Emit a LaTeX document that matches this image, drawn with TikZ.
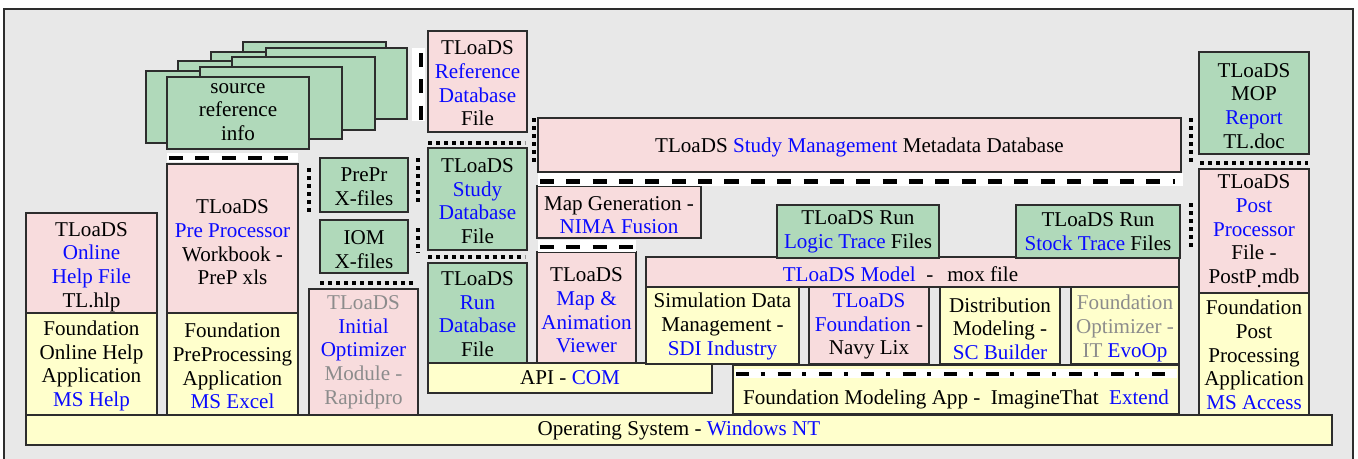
\documentclass[tikz,border=0pt]{standalone}
\usepackage{fontspec}
\setmainfont{Liberation Serif}
\usetikzlibrary{calc}

\definecolor{pinkfill}{RGB}{248,220,221}
\definecolor{greenfill}{RGB}{176,217,186}
\definecolor{yellowfill}{RGB}{255,255,204}
\definecolor{panelgray}{RGB}{232,232,232}
\definecolor{tblue}{RGB}{10,10,255}
\definecolor{tgray}{RGB}{140,140,140}
\definecolor{edge}{RGB}{45,45,45}

% coloured words inside the layer boxes
\newcommand\B[1]{\textcolor{tblue}{#1}}
\newcommand\G[1]{\textcolor{tgray}{#1}}

\tikzset{
  blkbox/.style={draw=edge, line width=0.7pt, inner sep=0pt, outer sep=0pt},
  blktext/.style={font=\fontsize{12}{13.5}\selectfont, align=center, inner sep=0pt},
  pinkbox/.style={fill=pinkfill},
  greenbox/.style={fill=greenfill},
  yellowbox/.style={fill=yellowfill},
  sepdot/.style={line width=2pt, dash pattern=on 2.3pt off 2.3pt},
  sepdash/.style={line width=2.3pt, dash pattern=on 8pt off 7pt},
  sepdashdot/.style={line width=2.3pt, dash pattern=on 7.4pt off 6.6pt on 2.3pt off 7.4pt},
}

% \blk{name}{style}{x1}{y1}{x2}{y2}{text shift}{text}
\newcommand\blk[8]{%
  \node[blkbox,#2,anchor=north west,
        minimum width={(#5-#3)*0.02cm},minimum height={(#6-#4)*0.02cm}] (#1) at (#3,#4) {};
  \node[blktext] (#1-t) at ($(#1.center)+(#7)$) {#8};}
% \sheet{name}{x1}{y1}{x2}{y2}: an empty sheet of the stacked source files
\newcommand\sheet[5]{%
  \node[blkbox,greenbox,anchor=north west,
        minimum width={(#4-#2)*0.02cm},minimum height={(#5-#3)*0.02cm}] (#1) at (#2,#3) {};}

\begin{document}
\begin{tikzpicture}[x=0.02cm,y=-0.02cm]
\path[use as bounding box] (0,0) rectangle (1358,458);
\fill[white] (0,0) rectangle (1358,458);
\begin{scope}
  \clip (0,0) rectangle (1358,458);
  \draw[edge, fill=panelgray, line width=0.8pt] (4,9) rectangle (1353,480);
\end{scope}

% stacked source reference files
\sheet{srcD}{243}{42}{386}{114}
\sheet{srcC}{211}{52}{353}{124}
\sheet{srcB}{178}{61}{320}{133}
\sheet{srcA}{146}{71}{288}{143}
\sheet{srcE}{266}{48}{407}{119}
\sheet{srcF}{232}{57}{375}{130}
\sheet{srcG}{200}{67}{342}{139}
\blk{src}{greenbox}{167}{77}{309}{149}{0,-1}{source\\reference\\info}

% databases and files
\blk{refdb}{pinkbox}{428}{31}{527}{132}{0,2}{TLoaDS\\\B{Reference}\\\B{Database}\\File}
\blk{sm}{pinkbox}{538}{118}{1181}{172}{0,2}{TLoaDS \B{Study Management} Metadata Database}
\blk{mop}{greenbox}{1199}{52}{1309}{154}{0,3}{TLoaDS\\MOP\\\B{Report}\\TL.doc}
\blk{post}{pinkbox}{1199}{169}{1309}{293}{0,0}{TLoaDS\\\B{Post}\\\B{Processor}\\File -\\PostP\raisebox{-2pt}{.}mdb}
\blk{fpost}{yellowbox}{1199}{293}{1309}{415}{0,1}{Foundation\\Post\\Processing\\Application\\\B{MS Access}}

% operating system
\blk{os}{yellowbox}{26}{415}{1332}{445}{0,0}{Operating System - \B{Windows NT}}

% help and pre-processing columns
\blk{help}{pinkbox}{26}{213}{157}{313}{0,4}{TLoaDS\\\B{Online}\\\B{Help File}\\TL.hlp}
\blk{fhelp}{yellowbox}{26}{313}{157}{415}{0,2}{Foundation\\Online Help\\Application\\\B{MS Help}}
\blk{prep}{pinkbox}{167}{164}{298}{313}{0,4}{TLoaDS\\\B{Pre Processor}\\Workbook -\\PreP xls}
\blk{fprep}{yellowbox}{167}{313}{298}{415}{0,2}{Foundation\\PreProcessing\\Application\\\B{MS Excel}}
\blk{preprx}{greenbox}{320}{158}{408}{212}{0,2}{PrePr\\X-files}
\blk{iomx}{greenbox}{320}{220}{408}{273}{0,3}{IOM\\X-files}
\blk{initopt}{pinkbox}{309}{289}{418}{415}{0,0}{\G{TLoaDS}\\\B{Initial}\\\B{Optimizer}\\\G{Module -}\\\G{Rapidpro}}

% study and run databases
\blk{studydb}{greenbox}{428}{148}{527}{250}{0,2}{TLoaDS\\\B{Study}\\\B{Database}\\File}
\blk{rundb}{greenbox}{428}{263}{527}{363}{0,1}{TLoaDS\\\B{Run}\\\B{Database}\\File}
\blk{api}{yellowbox}{428}{363}{712}{393}{0,0}{API - \B{COM}}

% maps and viewer
\blk{mapgen}{pinkbox}{537}{186}{701}{238}{0,3}{Map Generation -\\\B{NIMA Fusion}}
\blk{mapview}{pinkbox}{537}{252}{636}{363}{0,3}{TLoaDS\\\B{Map \&}\\\B{Animation}\\\B{Viewer}}

% model layer
\blk{model}{pinkbox}{646}{257}{1179}{287}{-12,2}{\B{TLoaDS Model}\hspace{6pt}-\hspace{8pt}mox file}
\blk{logic}{greenbox}{777}{205}{939}{258}{0,0}{TLoaDS Run\\\B{Logic Trace} Files}
\blk{stock}{greenbox}{1016}{205}{1180}{258}{0,0}{TLoaDS Run\\\B{Stock Trace} Files}
\blk{simdata}{yellowbox}{646}{287}{799}{364}{0,1}{Simulation Data\\Management -\\\B{SDI Industry}}
\blk{navy}{pinkbox}{809}{287}{929}{364}{0,1}{\B{TLoaDS}\\\B{Foundation} -\\Navy Lix}
\blk{dist}{yellowbox}{940}{287}{1060}{364}{0,3}{Distribution\\Modeling -\\\B{SC Builder}}
\blk{fopt}{yellowbox}{1071}{287}{1179}{364}{0,3}{\G{Foundation}\\\G{Optimizer -}\\\G{IT} \B{EvoOp}}
\blk{fmodel}{yellowbox}{733}{365}{1179}{414}{0,10}{Foundation Modeling App -\hspace{3pt} ImagineThat\hspace{3pt} \B{Extend}}

% dashed separators on white strips
\fill[white] (412,48) rectangle (425,121);
\draw[sepdash] (421,53) -- (421,121);
\fill[white] (167,153) rectangle (298,162);
\draw[sepdash] (169,158) -- (293,158);
\fill[white] (538,173) rectangle (1183,186);
\draw[sepdash] (540,181.5) -- (1175,181.5);
\fill[white] (538,240) rectangle (636,252);
\draw[sepdash] (540,247) -- (633,247);
\fill[white] (735,369) rectangle (1177,378);
\draw[sepdashdot] (736,374) -- (1175,374);

% dotted separators
\draw[sepdot] (428,143) -- (525,143);
\draw[sepdot] (534,118) -- (534,166);
\draw[sepdot] (1191,118) -- (1191,166);
\draw[sepdot] (1200,163) -- (1308,163);
\draw[sepdot] (1191,203) -- (1191,250);
\draw[sepdot] (309,168) -- (309,216);
\draw[sepdot] (418,158) -- (418,205);
\draw[sepdot] (418,228) -- (418,253);
\draw[sepdot] (320,283) -- (413,283);
\draw[sepdot] (428,257) -- (525,257);
\end{tikzpicture}
\end{document}
